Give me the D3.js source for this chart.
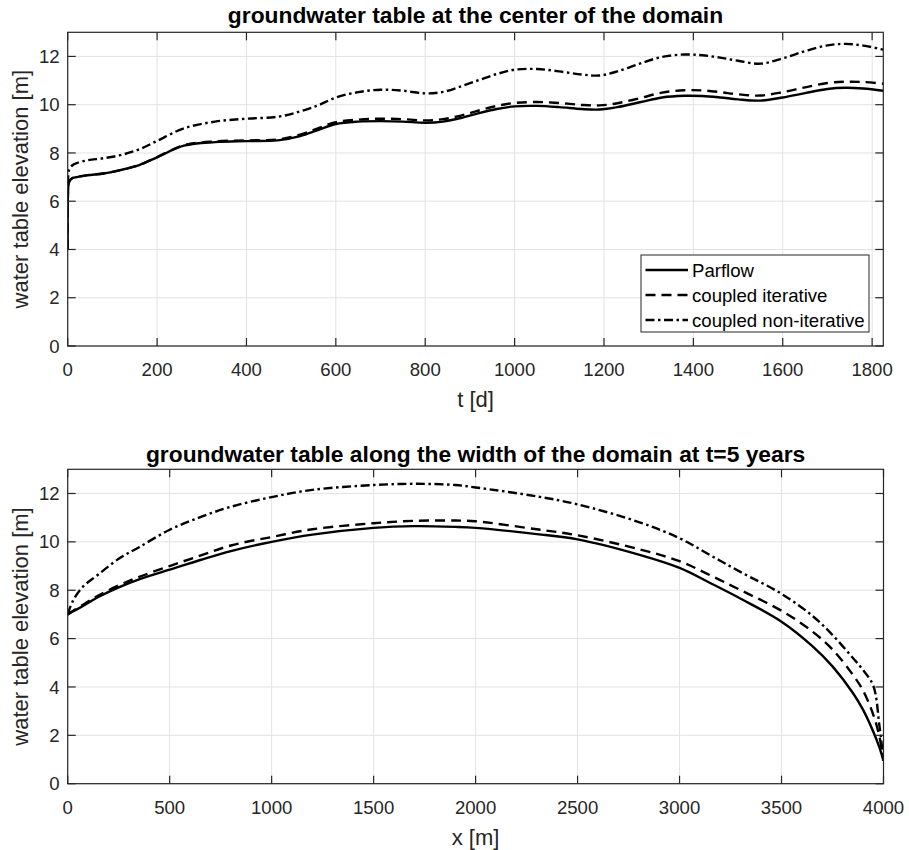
<!DOCTYPE html>
<html><head><meta charset="utf-8">
<script src="https://cdn.jsdelivr.net/npm/d3@7"></script>
<style>
body{margin:0;background:#fff}
svg{display:block}
text{font-family:"Liberation Sans",Arial,Helvetica,sans-serif;fill:#262626}
</style>
</head><body>
<svg id="c" width="909" height="850"></svg>
<script>
// ---------------- data ----------------
const seriesNames = ["Parflow", "coupled iterative", "coupled non-iterative"];

// top panel: water table at domain centre vs time [d]
const tDays = [0, 1, 3, 10, 20, 45, 80, 120, 160, 200, 260, 330, 400, 470, 520, 560, 600, 650, 700, 750, 800, 840, 880, 920, 960, 1000, 1050, 1100, 1150, 1190, 1230, 1280, 1330, 1380, 1420, 1460, 1500, 1550, 1600, 1650, 1700, 1740, 1780, 1825];
const parflowT = [4.0, 6.5, 6.8, 6.95, 7.0, 7.08, 7.15, 7.3, 7.5, 7.82, 8.3, 8.45, 8.49, 8.52, 8.7, 8.95, 9.2, 9.3, 9.32, 9.3, 9.25, 9.3, 9.45, 9.65, 9.82, 9.93, 9.95, 9.9, 9.82, 9.8, 9.9, 10.1, 10.3, 10.37, 10.36, 10.3, 10.22, 10.17, 10.3, 10.48, 10.65, 10.7, 10.67, 10.58];
const iterativeT = [4.0, 6.5, 6.8, 6.95, 7.0, 7.08, 7.15, 7.3, 7.5, 7.83, 8.32, 8.48, 8.52, 8.56, 8.76, 9.02, 9.28, 9.38, 9.42, 9.4, 9.35, 9.4, 9.55, 9.76, 9.95, 10.07, 10.11, 10.07, 9.99, 9.97, 10.06, 10.27, 10.5, 10.6, 10.59, 10.52, 10.43, 10.38, 10.52, 10.72, 10.9, 10.95, 10.94, 10.87];
const nonIterativeT = [6.7, 7.0, 7.3, 7.48, 7.58, 7.7, 7.78, 7.92, 8.15, 8.5, 9.02, 9.3, 9.42, 9.5, 9.72, 9.97, 10.3, 10.52, 10.62, 10.58, 10.47, 10.53, 10.76, 11.02, 11.27, 11.45, 11.48, 11.38, 11.25, 11.21, 11.38, 11.7, 11.98, 12.08, 12.05, 11.95, 11.82, 11.7, 11.92, 12.22, 12.46, 12.52, 12.45, 12.28];

// bottom panel: water table along the width at t = 5 years
const xWidth = [0, 25, 75, 150, 250, 350, 500, 650, 800, 1000, 1200, 1500, 1700, 1900, 2000, 2300, 2500, 2800, 3000, 3150, 3300, 3500, 3650, 3750, 3850, 3900, 3950, 3980, 4000];
const parflowX = [7.0, 7.12, 7.35, 7.72, 8.12, 8.45, 8.85, 9.25, 9.62, 10.0, 10.3, 10.58, 10.65, 10.62, 10.58, 10.32, 10.1, 9.47, 8.92, 8.3, 7.65, 6.7, 5.7, 4.85, 3.75, 3.05, 2.15, 1.5, 0.95];
const iterativeX = [7.0, 7.14, 7.4, 7.78, 8.2, 8.55, 9.0, 9.43, 9.85, 10.2, 10.52, 10.77, 10.87, 10.88, 10.85, 10.52, 10.27, 9.7, 9.2, 8.62, 8.0, 7.15, 6.3, 5.55, 4.5, 3.85, 2.85, 1.95, 0.95];
const nonIterativeX = [7.0, 7.55, 8.15, 8.65, 9.3, 9.78, 10.5, 11.02, 11.45, 11.85, 12.15, 12.35, 12.4, 12.35, 12.25, 11.88, 11.55, 10.82, 10.15, 9.45, 8.75, 7.85, 6.95, 6.15, 5.2, 4.7, 4.05, 2.4, 0.95];

const yTicks = [0, 2, 4, 6, 8, 10, 12];
const tTicks = [0, 200, 400, 600, 800, 1000, 1200, 1400, 1600, 1800];
const xTicks = [0, 500, 1000, 1500, 2000, 2500, 3000, 3500, 4000];

// ---------------- drawing ----------------
const svg = d3.select("#c");
const dashes = [null, "10,6", "9,3.5,2.5,3.5"];
const AX = "#262626";

function panel(cfg) {
  const {id, x0, x1, y0, y1, xDomain, xTickVals, xs, ys, title, xLabel, legend, titleY} = cfg;
  const x = d3.scaleLinear().domain(xDomain).range([x0, x1]);
  const y = d3.scaleLinear().domain([0, 13]).range([y1, y0]);
  const g = svg.append("g");

  g.append("rect").attr("x", x0).attr("y", y0).attr("width", x1 - x0).attr("height", y1 - y0).attr("fill", "#fff");

  // grid
  g.append("g").selectAll("line").data(xTickVals).join("line")
    .attr("x1", d => x(d)).attr("x2", d => x(d)).attr("y1", y0).attr("y2", y1)
    .attr("stroke", "#e3e3e3").attr("stroke-width", 1);
  g.append("g").selectAll("line").data(yTicks).join("line")
    .attr("x1", x0).attr("x2", x1).attr("y1", d => y(d)).attr("y2", d => y(d))
    .attr("stroke", "#e3e3e3").attr("stroke-width", 1);

  // clip
  svg.append("clipPath").attr("id", id).append("rect")
    .attr("x", x0).attr("y", y0).attr("width", x1 - x0).attr("height", y1 - y0);

  const line = d3.line().x(d => x(d[0])).y(d => y(d[1])).curve(d3.curveCatmullRom.alpha(0.5));
  const lg = g.append("g").attr("clip-path", `url(#${id})`);
  ys.forEach((vals, i) => {
    lg.append("path").datum(xs.map((v, k) => [v, vals[k]]))
      .attr("d", line).attr("fill", "none").attr("stroke", "#000")
      .attr("stroke-width", 2.4).attr("stroke-linejoin", "round")
      .attr("stroke-dasharray", dashes[i]);
  });

  // box
  g.append("rect").attr("x", x0).attr("y", y0).attr("width", x1 - x0).attr("height", y1 - y0)
    .attr("fill", "none").attr("stroke", AX).attr("stroke-width", 1.2);

  // ticks (inside, all four sides)
  const tl = 8;
  const tk = g.append("g").attr("stroke", AX).attr("stroke-width", 1.2);
  xTickVals.forEach(v => {
    tk.append("line").attr("x1", x(v)).attr("x2", x(v)).attr("y1", y1).attr("y2", y1 - tl);
    tk.append("line").attr("x1", x(v)).attr("x2", x(v)).attr("y1", y0).attr("y2", y0 + tl);
  });
  yTicks.forEach(v => {
    tk.append("line").attr("x1", x0).attr("x2", x0 + tl).attr("y1", y(v)).attr("y2", y(v));
    tk.append("line").attr("x1", x1).attr("x2", x1 - tl).attr("y1", y(v)).attr("y2", y(v));
  });

  // tick labels
  g.append("g").selectAll("text").data(xTickVals).join("text")
    .attr("x", d => x(d)).attr("y", y1 + 30).attr("text-anchor", "middle")
    .attr("font-size", "18.6px").text(d => d);
  g.append("g").selectAll("text").data(yTicks).join("text")
    .attr("x", x0 - 8).attr("y", d => y(d) + 6.6).attr("text-anchor", "end")
    .attr("font-size", "18.6px").text(d => d);

  // labels
  g.append("text").attr("x", (x0 + x1) / 2).attr("y", y1 + 61).attr("text-anchor", "middle")
    .attr("font-size", "22px").text(xLabel);
  g.append("text").attr("transform", `translate(28,${(y0 + y1) / 2}) rotate(-90)`)
    .attr("text-anchor", "middle").attr("font-size", "22px").text("water table elevation [m]");
  g.append("text").attr("x", (x0 + x1) / 2).attr("y", titleY).attr("text-anchor", "middle")
    .attr("font-size", "22.8px").attr("font-weight", "bold").style("fill", "#000").text(title);

  if (legend) {
    const lx = 641, ly = 255, lw = 228, lh = 77;
    const L = g.append("g");
    L.append("rect").attr("x", lx).attr("y", ly).attr("width", lw).attr("height", lh)
      .attr("fill", "#fff").attr("stroke", AX).attr("stroke-width", 1);
    seriesNames.forEach((name, i) => {
      const cy = ly + 15 + i * 25;
      L.append("line").attr("x1", lx + 4.5).attr("x2", lx + 47).attr("y1", cy).attr("y2", cy)
        .attr("stroke", "#000").attr("stroke-width", 2.4).attr("stroke-dasharray", dashes[i]);
      L.append("text").attr("x", lx + 51).attr("y", cy + 6.5).attr("font-size", "18.6px").style("fill", "#000").text(name);
    });
  }
}

panel({id: "clipTop", x0: 67.7, x1: 883.3, y0: 32.3, y1: 346, xDomain: [0, 1825], xTickVals: tTicks,
  xs: tDays, ys: [parflowT, iterativeT, nonIterativeT],
  title: "groundwater table at the center of the domain", xLabel: "t [d]", legend: true, titleY: 23});

panel({id: "clipBot", x0: 67.7, x1: 883.5, y0: 469.3, y1: 783.7, xDomain: [0, 4000], xTickVals: xTicks,
  xs: xWidth, ys: [parflowX, iterativeX, nonIterativeX],
  title: "groundwater table along the width of the domain at t=5 years", xLabel: "x [m]", legend: false, titleY: 461.5});
</script>
</body></html>
